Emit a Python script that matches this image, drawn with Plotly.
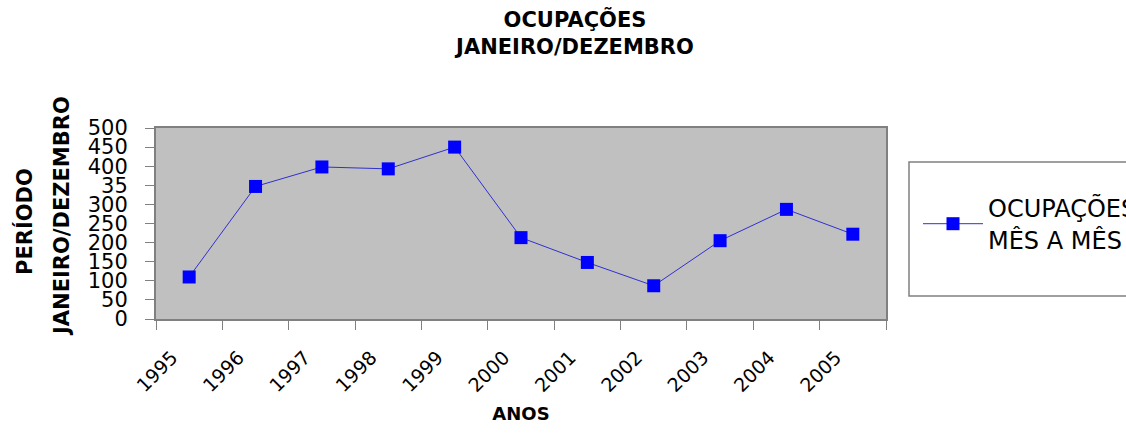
import plotly.graph_objects as go

anos = ["1995", "1996", "1997", "1998", "1999", "2000", "2001", "2002", "2003", "2004", "2005"]
ocupacoes = [110, 347, 398, 393, 450, 213, 148, 87, 205, 287, 222]
ytick_vals = [0, 50, 100, 150, 200, 250, 300, 350, 400, 450, 500]
ytick_text = ["0", "50", "100", "150", "200", "250", "300", "35", "400", "450", "500"]

W, H = 1126, 433
L, R, T, B = 156, 240, 128, 114
pw, ph = W - L - R, H - T - B
FONT = "DejaVu Sans, sans-serif"


def px_x(x):
    return (x - L) / pw


def px_y(y):
    return (H - B - y) / ph


fig = go.Figure()
fig.add_trace(go.Scatter(
    x=anos, y=ocupacoes, mode="lines+markers",
    name="OCUPAÇÕES<br>MÊS A MÊS",
    line=dict(color="#3030d0", width=1),
    marker=dict(symbol="square", size=13, color="#0000ff", line=dict(width=0)),
))

fig.update_layout(
    width=W, height=H,
    margin=dict(l=L, r=R, t=T, b=B, autoexpand=False),
    paper_bgcolor="white",
    plot_bgcolor="#c0c0c0",
    font=dict(family=FONT, color="black"),
    title=dict(
        text="<b>OCUPAÇÕES<br>JANEIRO/DEZEMBRO</b>",
        x=575 / W, xanchor="center", xref="container",
        y=1 - 27 / H, yanchor="middle", yref="container",
        font=dict(family=FONT, size=21, color="black"),
    ),
    showlegend=True,
    legend=dict(
        x=px_x(918), xanchor="left",
        y=px_y(224), yanchor="middle",
        bgcolor="rgba(0,0,0,0)", borderwidth=0,
        font=dict(family=FONT, size=24, color="black"),
        itemwidth=60,
    ),
    xaxis=dict(
        type="category",
        range=[-0.5, len(anos) - 0.5],
        showgrid=False,
        showline=True, linecolor="#808080", linewidth=2, mirror=True,
        ticks="outside", tickson="boundaries", ticklen=9, tickcolor="#808080", tickwidth=1,
        tickangle=-45,
        tickfont=dict(family=FONT, size=19),
        ticklabelstandoff=18,
        ticklabelshift=-17,
        title=dict(text="<b>ANOS</b>", font=dict(family=FONT, size=18), standoff=12),
    ),
    yaxis=dict(
        range=[0, 500],
        tickvals=ytick_vals, ticktext=ytick_text,
        showgrid=False,
        showline=True, linecolor="#808080", linewidth=2, mirror=True,
        ticks="outside", ticklen=9, tickcolor="#808080", tickwidth=1,
        tickfont=dict(family=FONT, size=21),
        ticklabelstandoff=13,
        zeroline=False,
    ),
)

# legend frame (extends past the right edge as in the reference)
fig.add_shape(type="rect", xref="paper", yref="paper",
              x0=px_x(909), x1=px_x(1140), y0=px_y(296), y1=px_y(162),
              line=dict(color="#808080", width=1.5), fillcolor="white", layer="below")

# y-axis title (two rotated lines)
fig.add_annotation(text="<b>PERÍODO</b>", xref="paper", yref="paper",
                   x=px_x(24), y=px_y(222), xanchor="center", yanchor="middle",
                   textangle=-90, showarrow=False,
                   font=dict(family=FONT, size=21))
fig.add_annotation(text="<b>JANEIRO/DEZEMBRO</b>", xref="paper", yref="paper",
                   x=px_x(62), y=px_y(216), xanchor="center", yanchor="middle",
                   textangle=-90, showarrow=False,
                   font=dict(family=FONT, size=21))

fig.write_html("out.html", config={"displayModeBar": False},
               post_script="document.body.style.margin='0';")
